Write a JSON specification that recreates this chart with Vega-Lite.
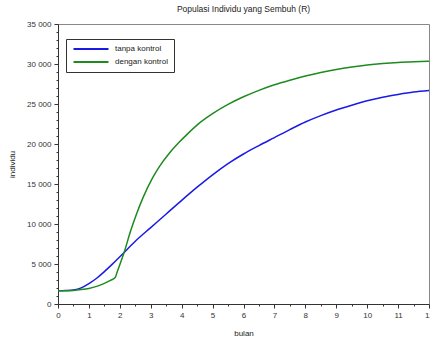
{
  "$schema": "https://vega.github.io/schema/vega-lite/v6.json",
  "autosize": "none",
  "width": 371,
  "height": 280,
  "padding": {"left": 58, "top": 24, "right": 1, "bottom": 34},
  "background": "white",
  "config": {
    "font": "Liberation Sans",
    "view": {"stroke": "#888888", "strokeWidth": 1}
  },
  "title": {
    "text": "Populasi Individu yang Sembuh (R)",
    "fontSize": 8.5,
    "fontWeight": "normal",
    "color": "#222222",
    "offset": 7,
    "anchor": "middle"
  },
  "data": {
    "values": [
      {"bulan": 0, "R": 1650, "seri": "tanpa kontrol"},
      {"bulan": 0.25, "R": 1680, "seri": "tanpa kontrol"},
      {"bulan": 0.5, "R": 1760, "seri": "tanpa kontrol"},
      {"bulan": 0.75, "R": 2020, "seri": "tanpa kontrol"},
      {"bulan": 1, "R": 2550, "seri": "tanpa kontrol"},
      {"bulan": 1.25, "R": 3220, "seri": "tanpa kontrol"},
      {"bulan": 1.5, "R": 4050, "seri": "tanpa kontrol"},
      {"bulan": 1.75, "R": 4950, "seri": "tanpa kontrol"},
      {"bulan": 2, "R": 5900, "seri": "tanpa kontrol"},
      {"bulan": 2.5, "R": 7850, "seri": "tanpa kontrol"},
      {"bulan": 3, "R": 9550, "seri": "tanpa kontrol"},
      {"bulan": 3.5, "R": 11250, "seri": "tanpa kontrol"},
      {"bulan": 4, "R": 12950, "seri": "tanpa kontrol"},
      {"bulan": 4.5, "R": 14600, "seri": "tanpa kontrol"},
      {"bulan": 5, "R": 16150, "seri": "tanpa kontrol"},
      {"bulan": 5.5, "R": 17550, "seri": "tanpa kontrol"},
      {"bulan": 6, "R": 18750, "seri": "tanpa kontrol"},
      {"bulan": 6.5, "R": 19800, "seri": "tanpa kontrol"},
      {"bulan": 7, "R": 20800, "seri": "tanpa kontrol"},
      {"bulan": 7.5, "R": 21800, "seri": "tanpa kontrol"},
      {"bulan": 8, "R": 22750, "seri": "tanpa kontrol"},
      {"bulan": 8.5, "R": 23550, "seri": "tanpa kontrol"},
      {"bulan": 9, "R": 24250, "seri": "tanpa kontrol"},
      {"bulan": 9.5, "R": 24850, "seri": "tanpa kontrol"},
      {"bulan": 10, "R": 25400, "seri": "tanpa kontrol"},
      {"bulan": 10.5, "R": 25850, "seri": "tanpa kontrol"},
      {"bulan": 11, "R": 26200, "seri": "tanpa kontrol"},
      {"bulan": 11.5, "R": 26500, "seri": "tanpa kontrol"},
      {"bulan": 12, "R": 26700, "seri": "tanpa kontrol"},
      {"bulan": 0, "R": 1650, "seri": "dengan kontrol"},
      {"bulan": 0.25, "R": 1660, "seri": "dengan kontrol"},
      {"bulan": 0.5, "R": 1700, "seri": "dengan kontrol"},
      {"bulan": 0.75, "R": 1800, "seri": "dengan kontrol"},
      {"bulan": 1, "R": 1950, "seri": "dengan kontrol"},
      {"bulan": 1.25, "R": 2200, "seri": "dengan kontrol"},
      {"bulan": 1.5, "R": 2580, "seri": "dengan kontrol"},
      {"bulan": 1.7, "R": 2950, "seri": "dengan kontrol"},
      {"bulan": 1.85, "R": 3300, "seri": "dengan kontrol"},
      {"bulan": 1.9, "R": 3850, "seri": "dengan kontrol"},
      {"bulan": 2.14, "R": 6460, "seri": "dengan kontrol"},
      {"bulan": 2.35, "R": 9150, "seri": "dengan kontrol"},
      {"bulan": 2.54, "R": 11250, "seri": "dengan kontrol"},
      {"bulan": 2.75, "R": 13300, "seri": "dengan kontrol"},
      {"bulan": 3.05, "R": 15700, "seri": "dengan kontrol"},
      {"bulan": 3.3, "R": 17300, "seri": "dengan kontrol"},
      {"bulan": 3.6, "R": 18850, "seri": "dengan kontrol"},
      {"bulan": 3.9, "R": 20150, "seri": "dengan kontrol"},
      {"bulan": 4.2, "R": 21300, "seri": "dengan kontrol"},
      {"bulan": 4.6, "R": 22700, "seri": "dengan kontrol"},
      {"bulan": 5, "R": 23800, "seri": "dengan kontrol"},
      {"bulan": 5.5, "R": 24950, "seri": "dengan kontrol"},
      {"bulan": 6, "R": 25900, "seri": "dengan kontrol"},
      {"bulan": 6.5, "R": 26700, "seri": "dengan kontrol"},
      {"bulan": 7, "R": 27400, "seri": "dengan kontrol"},
      {"bulan": 7.5, "R": 27980, "seri": "dengan kontrol"},
      {"bulan": 8, "R": 28500, "seri": "dengan kontrol"},
      {"bulan": 8.5, "R": 28950, "seri": "dengan kontrol"},
      {"bulan": 9, "R": 29320, "seri": "dengan kontrol"},
      {"bulan": 9.5, "R": 29620, "seri": "dengan kontrol"},
      {"bulan": 10, "R": 29870, "seri": "dengan kontrol"},
      {"bulan": 10.5, "R": 30060, "seri": "dengan kontrol"},
      {"bulan": 11, "R": 30200, "seri": "dengan kontrol"},
      {"bulan": 11.5, "R": 30290, "seri": "dengan kontrol"},
      {"bulan": 12, "R": 30350, "seri": "dengan kontrol"}
    ]
  },
  "mark": {"type": "line", "strokeWidth": 1.5, "clip": true, "interpolate": "monotone"},
  "encoding": {
    "x": {
      "field": "bulan",
      "type": "quantitative",
      "scale": {"domain": [0, 12], "nice": false, "zero": false},
      "axis": {
        "title": "bulan",
        "titleFontSize": 8,
        "titleFontWeight": "normal",
        "titleColor": "#222222",
        "titlePadding": 10,
        "values": [0,0.5,1,1.5,2,2.5,3,3.5,4,4.5,5,5.5,6,6.5,7,7.5,8,8.5,9,9.5,10,10.5,11,11.5,12],
        "labelExpr": "datum.value % 1 === 0 ? format(datum.value, 'd') : ''",
        "labelFontSize": 8,
        "labelColor": "#333333",
        "labelPadding": 3,
        "labelFlush": false,
        "labelOverlap": false,
        "tickSize": {"condition": {"test": "datum.value % 1 !== 0", "value": 2}, "value": 4},
        "tickColor": "#333333",
        "domainColor": "#333333",
        "grid": false
      }
    },
    "y": {
      "field": "R",
      "type": "quantitative",
      "scale": {"domain": [0, 35000], "nice": false},
      "axis": {
        "title": "individu",
        "titleFontSize": 8,
        "titleFontWeight": "normal",
        "titleColor": "#222222",
        "titlePadding": 10,
        "values": [0,1000,2000,3000,4000,5000,6000,7000,8000,9000,10000,11000,12000,13000,14000,15000,16000,17000,18000,19000,20000,21000,22000,23000,24000,25000,26000,27000,28000,29000,30000,31000,32000,33000,34000,35000],
        "labelExpr": "datum.value % 5000 === 0 ? replace(format(datum.value, ',d'), ',', ' ') : ''",
        "labelFontSize": 8,
        "labelColor": "#333333",
        "labelPadding": 3,
        "labelOverlap": false,
        "labelFlush": false,
        "tickSize": {"condition": {"test": "datum.value % 5000 !== 0", "value": 2}, "value": 4},
        "tickColor": "#333333",
        "domainColor": "#333333",
        "grid": false
      }
    },
    "color": {
      "field": "seri",
      "type": "nominal",
      "scale": {"domain": ["tanpa kontrol", "dengan kontrol"], "range": ["#1a1ae6", "#1f8a1f"]},
      "legend": {
        "title": null,
        "orient": "none",
        "legendX": 8,
        "legendY": 15,
        "symbolType": "M-7,0H7",
        "symbolSize": 25,
        "symbolOffset": 15,
        "symbolStrokeWidth": 2,
        "labelFontSize": 8,
        "labelColor": "#222222",
        "strokeColor": "#333333",
        "fillColor": "white",
        "padding": 6,
        "rowPadding": 5,
        "labelOffset": 20
      }
    }
  }
}
